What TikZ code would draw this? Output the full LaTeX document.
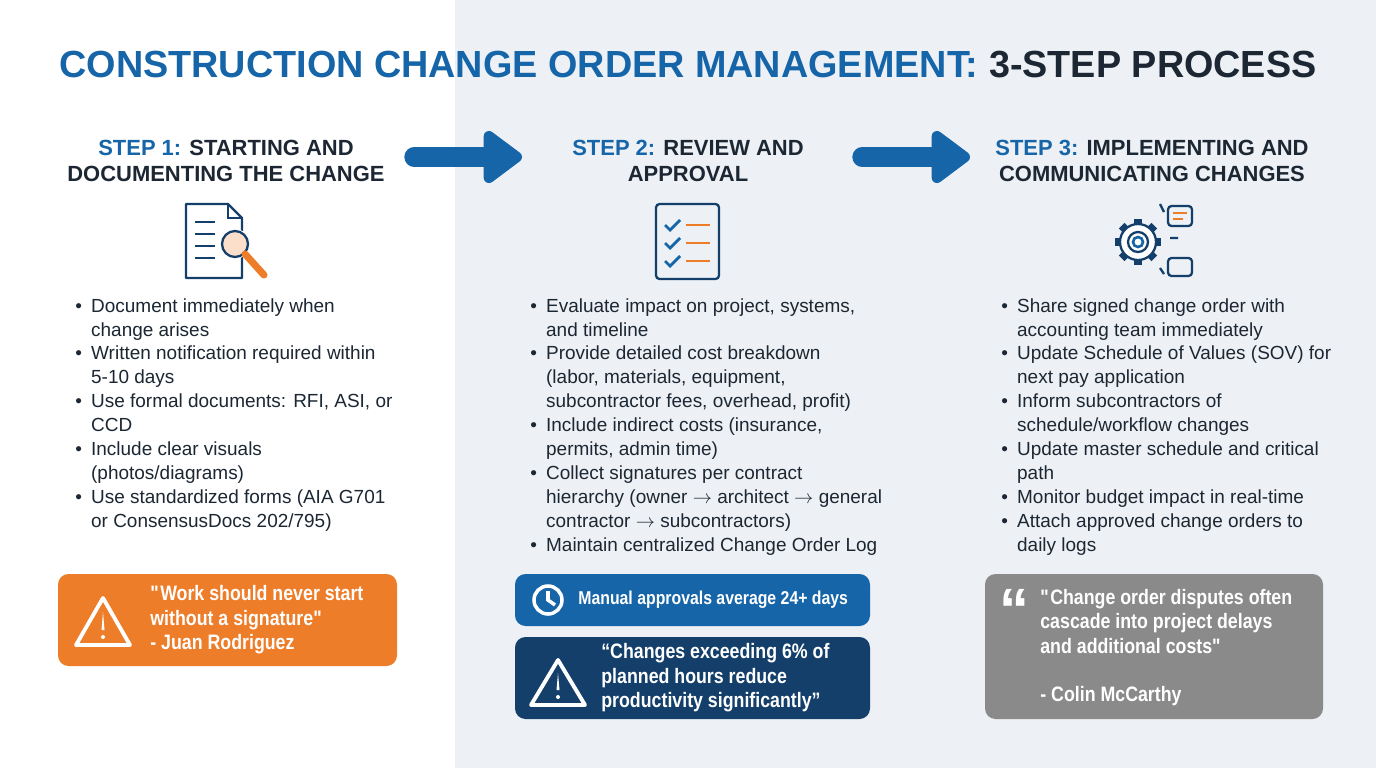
\documentclass[tikz,border=0pt]{standalone}
\usepackage{fontspec}
\setmainfont{Liberation Sans}
\newfontfamily\condfont[FakeStretch=0.85]{Liberation Sans}
\usetikzlibrary{positioning,arrows.meta}
\definecolor{cblue}{HTML}{1565A8}
\definecolor{cdark}{HTML}{1C2733}
\definecolor{corange}{HTML}{EE7D2A}
\definecolor{cnavy}{HTML}{143F6B}
\definecolor{cgray}{HTML}{8A8A8A}
\definecolor{cpanel}{HTML}{EDF1F5}
\tikzset{
  head/.style={align=center,font=\bfseries\fontsize{12.5}{15}\selectfont,text=cdark},
  items/.style={align=left,anchor=north west,font=\fontsize{10.8}{13.6}\selectfont,text=cdark,inner sep=0pt},
  bigarrow/.style={line width=11pt,cblue,line cap=round,-{Triangle[length=24pt,width=34pt,round]}},
  icon/.style={line width=1.3pt,cnavy},
  boxtext/.style={align=left,anchor=west,text=white,font=\condfont\bfseries\fontsize{11.9}{13.9}\selectfont,inner sep=0pt}
}
\newcommand{\bul}{\makebox[9pt][l]{\textbullet}}
\newcommand{\ind}{\hspace*{9pt}}
\begin{document}
\begin{tikzpicture}[x=0.02cm,y=-0.02cm]
\useasboundingbox (0,0) rectangle (1376,768);
\fill[white] (0,0) rectangle (455,768);
\fill[cpanel] (455,0) rectangle (1376,768);
% title
\node[font=\bfseries\fontsize{21.5}{26}\selectfont] (title) at (688,65)
  {\textcolor{cblue}{CONSTRUCTION CHANGE ORDER MANAGEMENT:} \textcolor{cdark}{3-STEP PROCESS}};
% headings
\node[head] (h1) at (226,161) {\textcolor{cblue}{STEP 1:} STARTING AND\\DOCUMENTING THE CHANGE};
\node[head] (h2) at (688,161) {\textcolor{cblue}{STEP 2:} REVIEW AND\\APPROVAL};
\node[head] (h3) at (1152,161) {\textcolor{cblue}{STEP 3:} IMPLEMENTING AND\\COMMUNICATING CHANGES};
\coordinate (a1s) at (414,157); \coordinate (a1e) at (522,157);
\coordinate (a2s) at (862,157); \coordinate (a2e) at (970,157);
\draw[bigarrow] (a1s) -- (a1e);
\draw[bigarrow] (a2s) -- (a2e);
% icon 1: document and lens
\draw[icon,line join=round] (186,204) -- (228,204) -- (242,218) -- (242,278) -- (186,278) -- cycle;
\draw[icon] (228,204) -- (228,218) -- (242,218);
\foreach \yy in {222,234,246,258} \draw[icon] (195,\yy) -- (215,\yy);
\fill[white] (235,244) circle (15);
\draw[icon,fill=corange!25] (235,244) circle (13);
\draw[corange,line width=4pt,line cap=round] (245,254) -- (264,275);
% icon 2: checklist
\draw[icon,rounded corners=2pt] (656,204) rectangle (719,279);
\foreach \yy in {225,243,261} {
  \draw[cblue,line width=1.6pt] (665,\yy) -- (670,\yy+5) -- (680,\yy-5);
  \draw[corange,line width=1.6pt] (686,\yy) -- (710,\yy);
}
% icon 3: gear and bubbles
\foreach \a in {0,45,...,315}
  \fill[cnavy] (1138,242) ++(\a:17) ++(\a+90:4) -- ++(\a:6) -- ++(\a-90:8) -- ++(\a+180:6) -- cycle;
\draw[icon,fill=white] (1138,242) circle (18);
\draw[icon] (1138,242) circle (10);
\draw[cblue,line width=1.5pt] (1138,242) circle (5);
\draw[icon,rounded corners=2pt] (1168,206) rectangle (1192,226);
\draw[corange,line width=1.3pt] (1173,213) -- (1187,213) (1173,219) -- (1183,219);
\draw[icon,rounded corners=2pt] (1168,258) rectangle (1192,276);
\draw[icon] (1160,204) -- (1164,212) (1170,238) -- (1178,238) (1160,268) -- (1164,274);
% bullets
\node[items] (l1) at (75,298) {%
\bul Document immediately when\\ \ind change arises\\
\bul Written notification required within\\ \ind 5-10 days\\
\bul Use formal documents: RFI, ASI, or\\ \ind CCD\\
\bul Include clear visuals\\ \ind (photos/diagrams)\\
\bul Use standardized forms (AIA G701\\ \ind or ConsensusDocs 202/795)};
\node[items] (l2) at (530,298) {%
\bul Evaluate impact on project, systems,\\ \ind and timeline\\
\bul Provide detailed cost breakdown\\ \ind (labor, materials, equipment,\\ \ind subcontractor fees, overhead, profit)\\
\bul Include indirect costs (insurance,\\ \ind permits, admin time)\\
\bul Collect signatures per contract\\ \ind hierarchy (owner $\rightarrow$ architect $\rightarrow$ general\\ \ind contractor $\rightarrow$ subcontractors)\\
\bul Maintain centralized Change Order Log};
\node[items] (l3) at (1001,298) {%
\bul Share signed change order with\\ \ind accounting team immediately\\
\bul Update Schedule of Values (SOV) for\\ \ind next pay application\\
\bul Inform subcontractors of\\ \ind schedule/workflow changes\\
\bul Update master schedule and critical\\ \ind path\\
\bul Monitor budget impact in real-time\\
\bul Attach approved change orders to\\ \ind daily logs};
% callout boxes
\fill[corange,rounded corners=6pt] (58,574) rectangle (397,666);
\draw[white,line width=2.2pt,line join=round] (103,598) -- (130,645) -- (76,645) -- cycle;
\fill[white] (103,612) -- (101.5,630) -- (104.5,630) -- cycle;
\fill[white] (103,637) circle (2);
\node[boxtext] (q1) at (150,620) {\textquotedbl Work should never start\\without a signature\textquotedbl\\- Juan Rodriguez};
\fill[cblue,rounded corners=6pt] (515,574) rectangle (870,626);
\draw[white,line width=2pt] (548,600) circle (14);
\draw[white,line width=2pt] (548,591) -- (548,600) -- (555,605);
\node[boxtext,font=\condfont\bfseries\fontsize{10.6}{13}\selectfont] (q2) at (578,600) {Manual approvals average 24+ days};
\fill[cnavy,rounded corners=6pt] (515,637) rectangle (870,719);
\draw[white,line width=2.2pt,line join=round] (558,660) -- (585,705) -- (531,705) -- cycle;
\fill[white] (558,673) -- (556.5,690) -- (559.5,690) -- cycle;
\fill[white] (558,697) circle (2);
\node[boxtext] (q3) at (601,678) {“Changes exceeding 6\% of\\planned hours reduce\\productivity significantly”};
\fill[cgray,rounded corners=6pt] (985,574) rectangle (1323,719);
\node[text=white,font=\bfseries\fontsize{34}{34}\selectfont,inner sep=0pt] (qm) at (1014,610) {“};
\node[boxtext,anchor=north west] (q4) at (1040,589) {\textquotedbl Change order disputes often\\cascade into project delays\\and additional costs\textquotedbl\\[13.6pt]- Colin McCarthy};
\end{tikzpicture}
\end{document}
